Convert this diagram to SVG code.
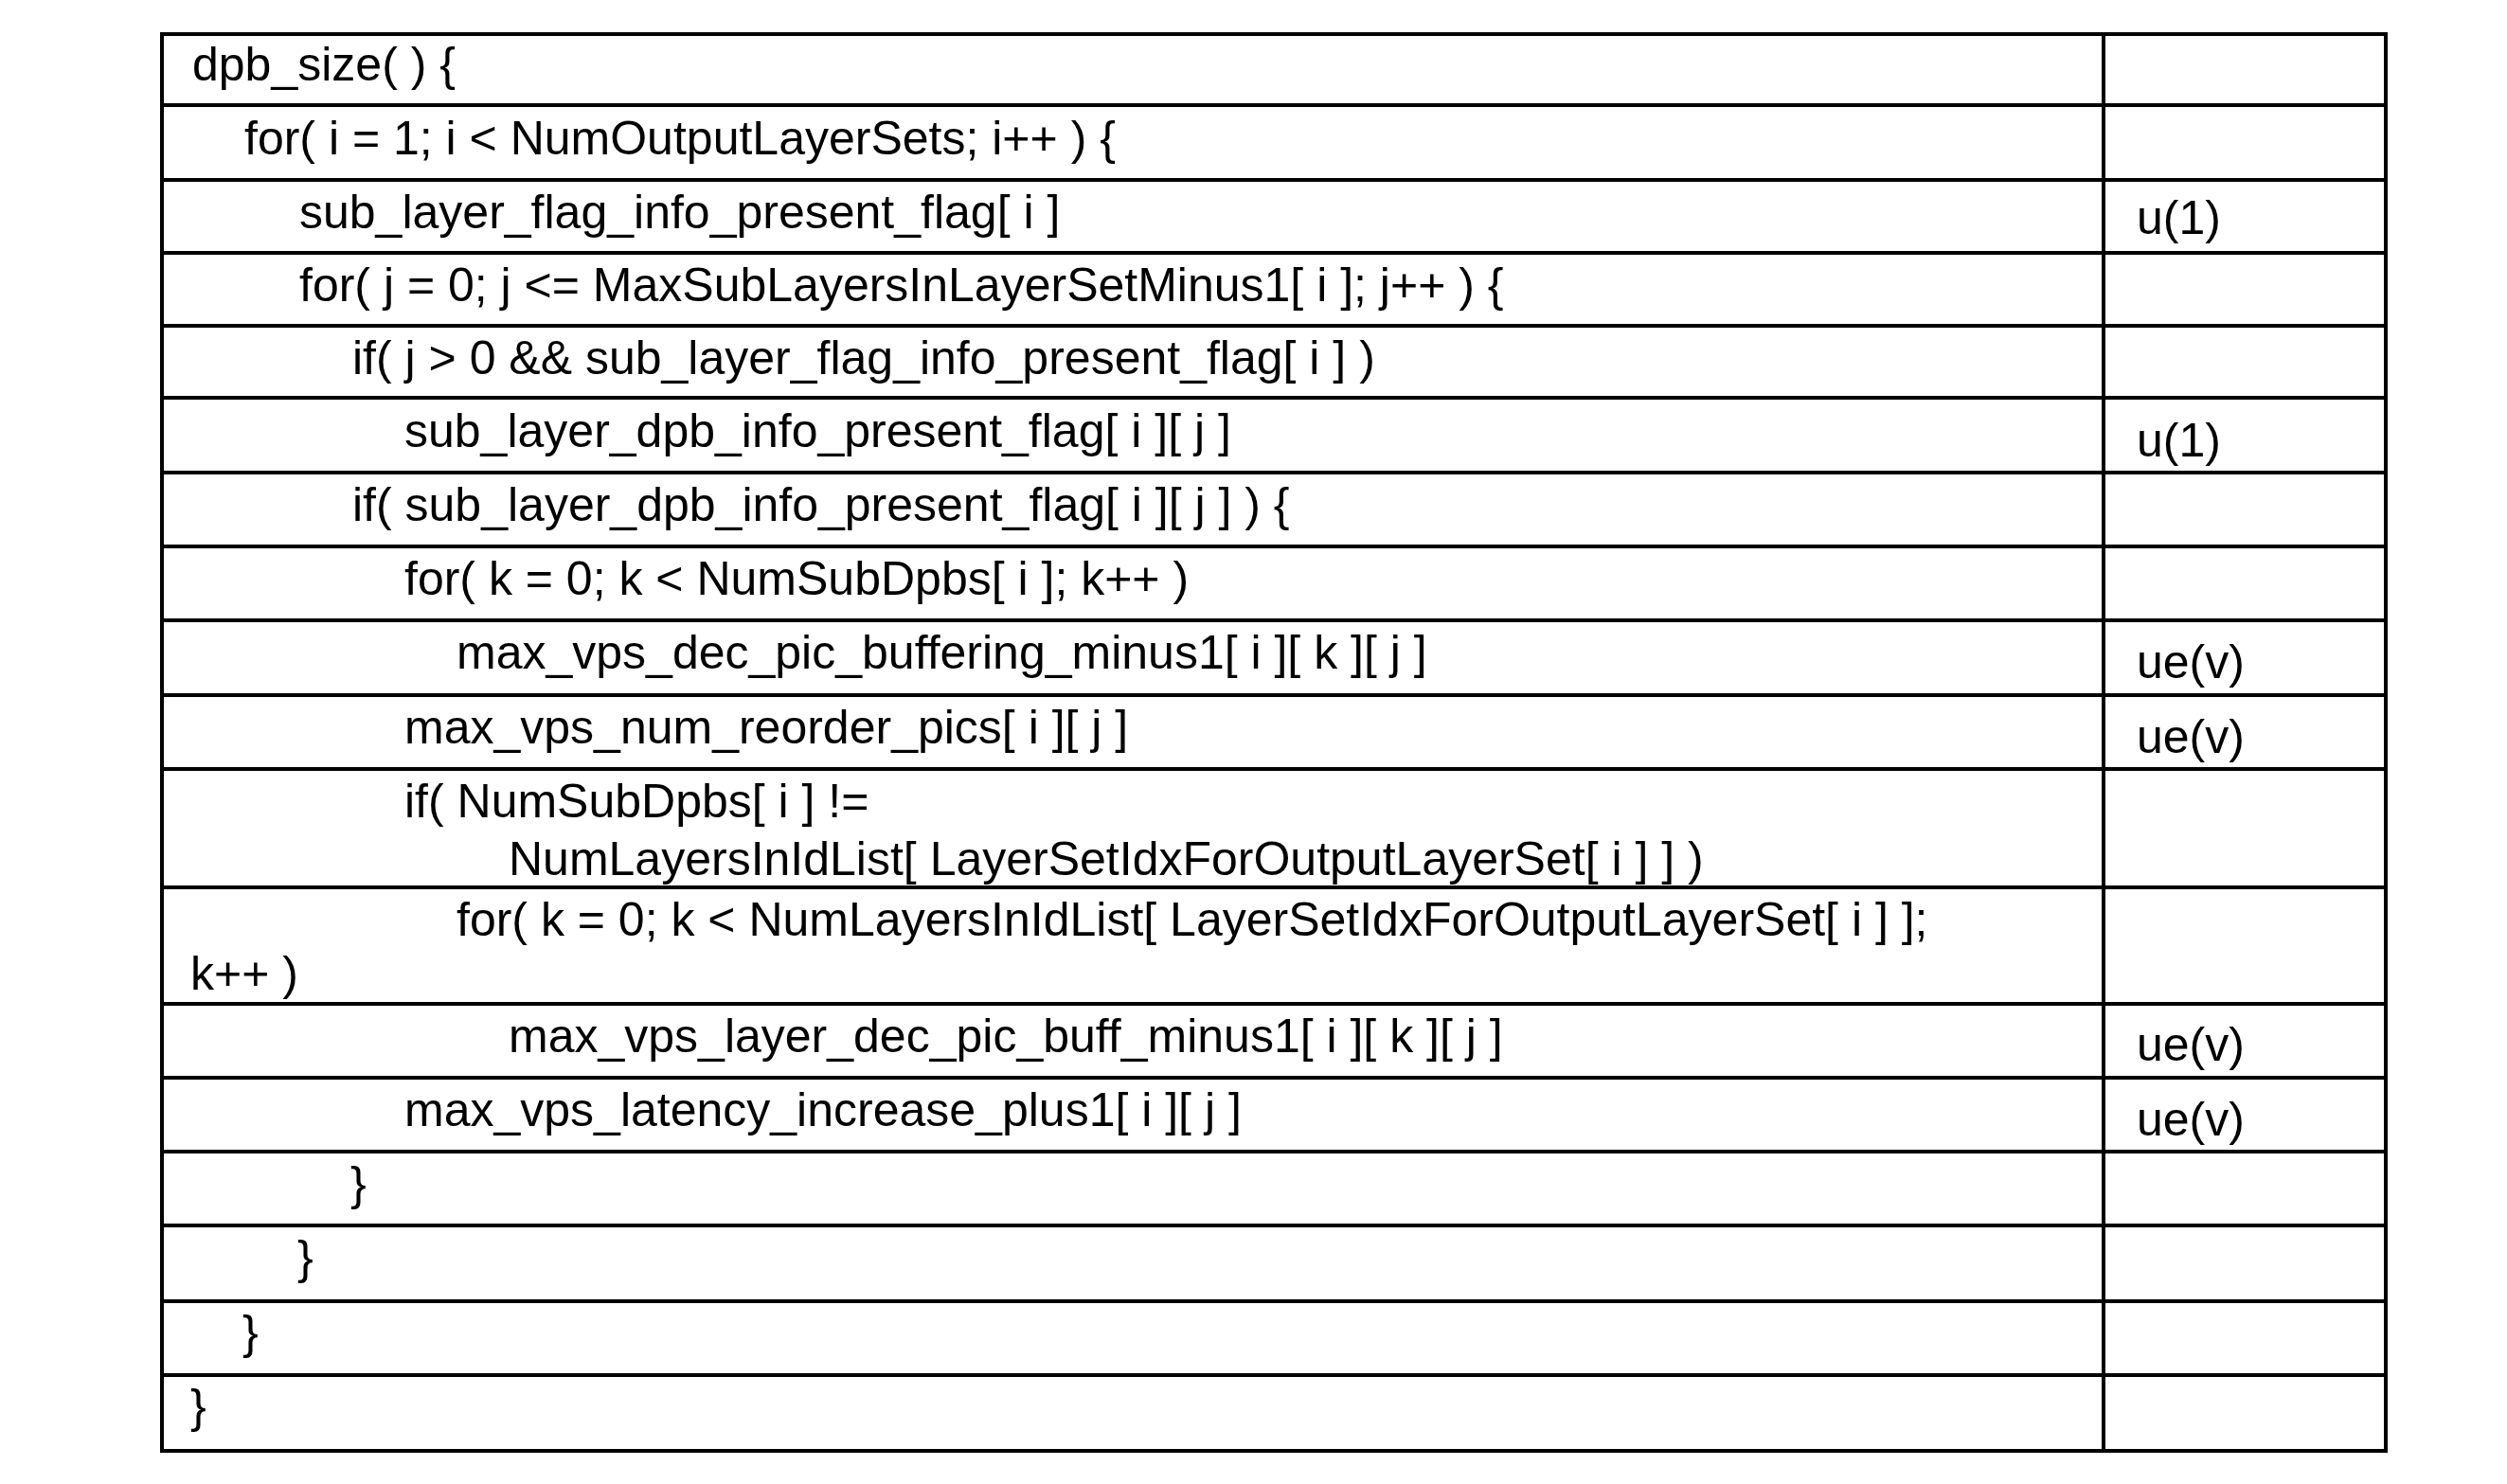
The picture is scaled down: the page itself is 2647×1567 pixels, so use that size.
<svg xmlns="http://www.w3.org/2000/svg" width="2647" height="1567" viewBox="0 0 2647 1567">
<style>
text{font-family:"Liberation Sans",Arial,sans-serif;font-size:50px;fill:#000}
line{stroke:#000;stroke-width:4}
</style>
<rect width="2647" height="1567" fill="#fff"/>
<g id="grid">
<rect x="171" y="36" width="2348" height="1496" fill="none" stroke="#000" stroke-width="4"/>
<line x1="2221" y1="36" x2="2221" y2="1532"/>
<line x1="171" y1="111" x2="2519" y2="111"/>
<line x1="171" y1="190" x2="2519" y2="190"/>
<line x1="171" y1="267" x2="2519" y2="267"/>
<line x1="171" y1="344" x2="2519" y2="344"/>
<line x1="171" y1="420" x2="2519" y2="420"/>
<line x1="171" y1="499" x2="2519" y2="499"/>
<line x1="171" y1="577" x2="2519" y2="577"/>
<line x1="171" y1="655" x2="2519" y2="655"/>
<line x1="171" y1="734" x2="2519" y2="734"/>
<line x1="171" y1="812" x2="2519" y2="812"/>
<line x1="171" y1="937" x2="2519" y2="937"/>
<line x1="171" y1="1060" x2="2519" y2="1060"/>
<line x1="171" y1="1138" x2="2519" y2="1138"/>
<line x1="171" y1="1216" x2="2519" y2="1216"/>
<line x1="171" y1="1294" x2="2519" y2="1294"/>
<line x1="171" y1="1374" x2="2519" y2="1374"/>
<line x1="171" y1="1452" x2="2519" y2="1452"/>
</g>
<g id="text">
<text x="203" y="85">dpb_size( ) {</text>
<text x="258" y="163">for( i = 1; i &lt; NumOutputLayerSets; i++ ) {</text>
<text x="316" y="241">sub_layer_flag_info_present_flag[ i ]</text>
<text x="316" y="318">for( j = 0; j  &lt;=  MaxSubLayersInLayerSetMinus1[ i ]; j++ ) {</text>
<text x="372" y="395">if( j &gt; 0  &amp;&amp;  sub_layer_flag_info_present_flag[ i ]  )</text>
<text x="427" y="472">sub_layer_dpb_info_present_flag[ i ][ j ]</text>
<text x="372" y="550">if( sub_layer_dpb_info_present_flag[ i ][ j ] ) {</text>
<text x="427" y="628">for( k = 0; k &lt; NumSubDpbs[ i ]; k++ )</text>
<text x="482" y="706">max_vps_dec_pic_buffering_minus1[ i ][ k ][ j ]</text>
<text x="427" y="785">max_vps_num_reorder_pics[ i ][ j ]</text>
<text x="427" y="863">if( NumSubDpbs[ i ]  !=</text>
<text x="537" y="924">NumLayersInIdList[ LayerSetIdxForOutputLayerSet[ i ] ] )</text>
<text x="482" y="988">for( k = 0; k &lt; NumLayersInIdList[ LayerSetIdxForOutputLayerSet[ i ] ];</text>
<text x="201" y="1045">k++ )</text>
<text x="537" y="1111">max_vps_layer_dec_pic_buff_minus1[ i ][ k ][ j ]</text>
<text x="427" y="1189">max_vps_latency_increase_plus1[ i ][ j ]</text>
<text x="370" y="1267">}</text>
<text x="314" y="1345">}</text>
<text x="256" y="1424">}</text>
<text x="201" y="1502">}</text>
<text x="2256" y="247">u(1)</text>
<text x="2256" y="482">u(1)</text>
<text x="2256" y="716">ue(v)</text>
<text x="2256" y="795">ue(v)</text>
<text x="2256" y="1120">ue(v)</text>
<text x="2256" y="1199">ue(v)</text>
</g>
</svg>
